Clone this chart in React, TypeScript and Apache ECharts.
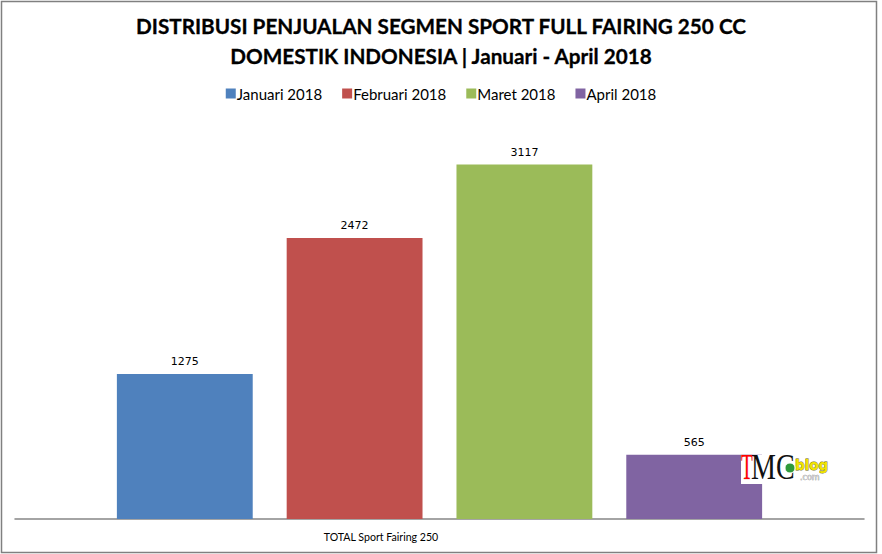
import React, { useEffect, useRef } from "react";
import * as echarts from "echarts";

const categories = ["TOTAL Sport Fairing 250"];
const seriesNames = ["Januari 2018", "Februari 2018", "Maret 2018", "April 2018"];
const seriesValues = [1275, 2472, 3117, 565];
const seriesColors = ["#4F81BD", "#C0504D", "#9BBB59", "#8064A2"];

const titleLines = [
  "DISTRIBUSI PENJUALAN SEGMEN SPORT FULL FAIRING 250 CC",
  "DOMESTIK INDONESIA | Januari - April 2018",
];

export default function App() {
  const ref = useRef<HTMLDivElement>(null);
  useEffect(() => {
    document.body.style.margin = "0";
    const chart = echarts.init(ref.current!, null, { renderer: "svg" });
    chart.setOption({
      animation: false,
      backgroundColor: "#ffffff",
      title: {
        text: titleLines.join("\n"),
        left: "center",
        top: 6,
        textStyle: {
          fontFamily: "Lato",
          fontWeight: "bold",
          fontSize: 20.7,
          lineHeight: 30,
          color: "#000000",
          textBorderColor: "#000000",
          textBorderWidth: 0.3,
        },
      },
      legend: {
        top: 81,
        left: "center",
        itemWidth: 10,
        itemHeight: 10,
        itemGap: 20,
        icon: "rect",
        data: seriesNames,
        textStyle: { fontFamily: "Lato", fontSize: 15, color: "#000000", padding: [0, 0, 0, -4] },
      },
      grid: { left: 15, right: 18, top: 121, bottom: 35 },
      xAxis: {
        type: "category",
        data: categories,
        axisLine: { lineStyle: { color: "#868686", width: 1.5 } },
        axisTick: { show: false },
        axisLabel: {
          fontFamily: "Lato",
          fontSize: 10.6,
          color: "#000000",
          margin: 12,
          padding: [0, 117, 0, 0],
        },
      },
      yAxis: {
        type: "value",
        min: 0,
        max: 3500,
        show: false,
        splitLine: { show: false },
      },
      series: seriesNames.map((name, i) => ({
        name,
        type: "bar",
        data: [seriesValues[i]],
        barGap: "25%",
        barCategoryGap: "24%",
        itemStyle: { color: seriesColors[i] },
        label: {
          show: true,
          position: "top",
          distance: 7,
          fontFamily: "DejaVu Sans",
          fontSize: 11,
          color: "#000000",
        },
      })),
      graphic: [
        {
          type: "rect",
          z: 100,
          shape: { x: 1.5, y: 1.5, width: 875, height: 551 },
          style: { fill: "none", stroke: "#808080", lineWidth: 1.5 },
          silent: true,
        },
        {
          type: "group",
          x: 740,
          y: 454,
          z: 100,
          children: [
            {
              type: "rect",
              z: 100,
              shape: { x: 1, y: 1, width: 90, height: 29 },
              style: { fill: "#ffffff" },
            },
            {
              type: "text",
              z: 101,
              x: 1,
              y: -4,
              scaleX: 0.55,
              style: {
                text: "T",
                fontFamily: "Liberation Serif",
                fontSize: 35,
                fill: "#ff0000",
                stroke: "#d0a0a0",
                lineWidth: 0.6,
              },
            },
            {
              type: "text",
              z: 101,
              x: 11,
              y: -4,
              scaleX: 0.8,
              style: {
                text: "MC",
                fontFamily: "Liberation Serif",
                fontSize: 35,
                fill: "#111111",
              },
            },
            {
              type: "circle",
              z: 102,
              shape: { cx: 50, cy: 14, r: 5 },
              style: { fill: "#2f9a3a", stroke: "#ffffff", lineWidth: 1 },
            },
            {
              type: "text",
              z: 101,
              x: 55,
              y: 4,
              style: {
                text: "blog",
                fontFamily: "DejaVu Sans",
                fontWeight: "bold",
                fontSize: 13.5,
                fill: "#f2e400",
                stroke: "#6b6400",
                lineWidth: 0.8,
              },
            },
            {
              type: "text",
              z: 101,
              x: 60,
              y: 19,
              style: {
                text: ".com",
                fontFamily: "DejaVu Sans",
                fontSize: 8,
                fill: "#d8d8d8",
                stroke: "#707070",
                lineWidth: 0.4,
              },
            },
          ],
        },
      ],
    });
    return () => chart.dispose();
  }, []);
  return <div ref={ref} style={{ width: 882, height: 554 }} />;
}
